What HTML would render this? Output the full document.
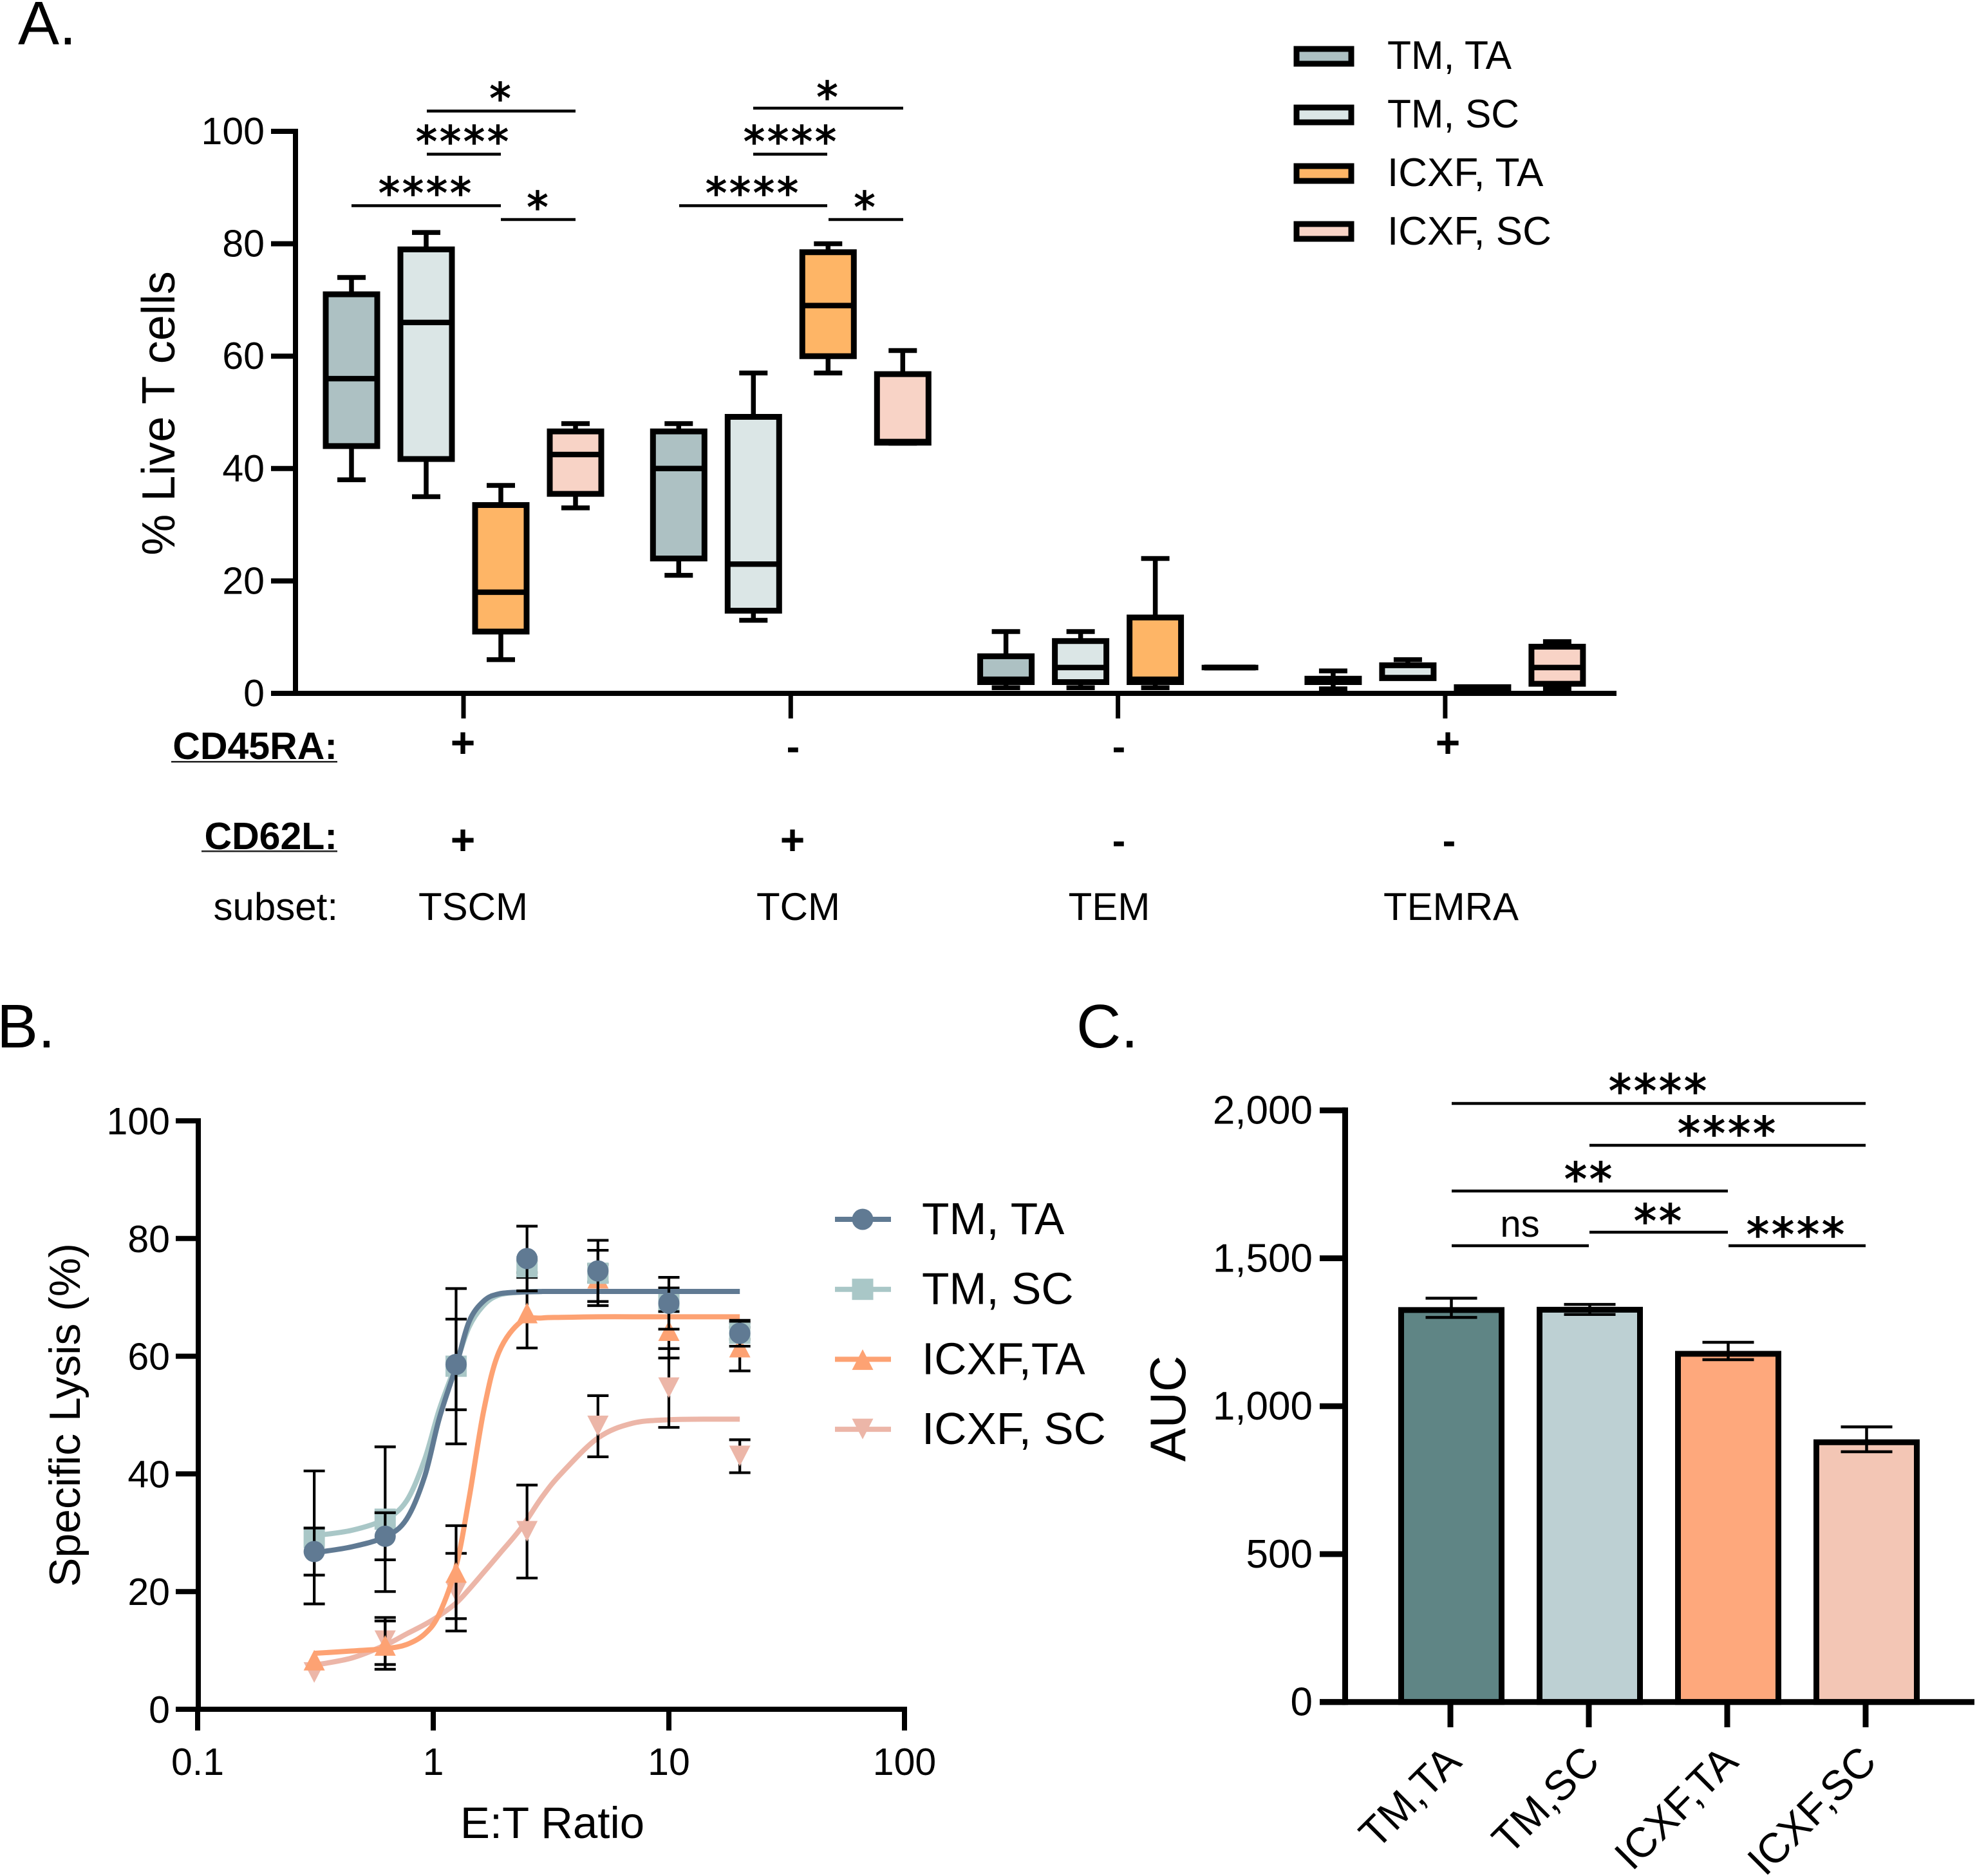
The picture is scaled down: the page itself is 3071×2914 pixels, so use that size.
<!DOCTYPE html>
<html lang="en">
<head>
<meta charset="utf-8">
<title>T cell subsets, specific lysis and AUC</title>
<style>
html,body{margin:0;padding:0;background:#fff;}
svg{display:block;}
text{font-family:"Liberation Sans",Arial,sans-serif;fill:#000;}
text.star{font-family:"DejaVu Sans",sans-serif;font-size:66px;letter-spacing:4px;text-anchor:middle;stroke:#000;stroke-width:1.6px;}
text.starc{font-size:70px;}
.br{stroke:#000;stroke-width:4.5px;}
.bold{font-weight:bold;}
</style>
</head>
<body>
<svg id="fig" xmlns="http://www.w3.org/2000/svg" width="3071" height="2914" viewBox="0 0 3071 2914">
<rect width="3071" height="2914" fill="#fff"/>

<text x="28" y="69" font-size="96">A.</text>
<text x="-5" y="1627" font-size="96">B.</text>
<text x="1672" y="1627" font-size="96">C.</text>

<!-- Panel A static -->
<g id="panelA">
<text transform="translate(271,642) rotate(-90)" font-size="72" text-anchor="middle">% Live T cells</text>
<g>
<text x="524" y="1179" font-size="59" text-anchor="end" class="bold">CD45RA:</text>
<rect x="266" y="1182" width="258" height="2.5" fill="#222"/>
<text x="524" y="1319" font-size="59" text-anchor="end" class="bold">CD62L:</text>
<rect x="313" y="1321" width="211" height="2.5" fill="#222"/>
<text x="525" y="1429" font-size="60" text-anchor="end">subset:</text>
</g>
<g class="bold" font-size="66" text-anchor="middle">
<text x="719" y="1176">+</text>
<text x="1232" y="1181" font-size="62">-</text>
<text x="1738" y="1181" font-size="62">-</text>
<text x="2249" y="1176">+</text>
</g>
<g class="bold" font-size="66" text-anchor="middle">
<text x="719" y="1327">+</text>
<text x="1231" y="1327">+</text>
<text x="1738" y="1327" font-size="62">-</text>
<text x="2251" y="1327" font-size="62">-</text>
</g>
<g font-size="60" text-anchor="middle">
<text x="735" y="1429">TSCM</text>
<text x="1240" y="1429">TCM</text>
<text x="1723" y="1429">TEM</text>
<text x="2254" y="1429">TEMRA</text>
</g>
<g>
<line class="br" x1="663" x2="894" y1="172.5" y2="172.5"/>
<line class="br" x1="663" x2="778" y1="239.5" y2="239.5"/>
<line class="br" x1="546" x2="778" y1="319.5" y2="319.5"/>
<line class="br" x1="778" x2="894" y1="341" y2="341"/>
<line class="br" x1="1170" x2="1403" y1="168" y2="168"/>
<line class="br" x1="1170" x2="1285" y1="239.5" y2="239.5"/>
<line class="br" x1="1055" x2="1285" y1="319.5" y2="319.5"/>
<line class="br" x1="1287" x2="1403" y1="341" y2="341"/>
<text class="star" x="779" y="176">*</text>
<text class="star" x="720" y="243">****</text>
<text class="star" x="662" y="323">****</text>
<text class="star" x="837" y="345">*</text>
<text class="star" x="1287" y="174">*</text>
<text class="star" x="1229" y="243">****</text>
<text class="star" x="1170" y="323">****</text>
<text class="star" x="1345" y="345">*</text>
</g>
<g font-size="62">
<rect x="2014" y="76" width="85" height="23" fill="#adc1c3" stroke="#000" stroke-width="9"/>
<text x="2155" y="107" textLength="193" lengthAdjust="spacingAndGlyphs">TM, TA</text>
<rect x="2014" y="167" width="85" height="23" fill="#dbe6e6" stroke="#000" stroke-width="9"/>
<text x="2155" y="198" textLength="205" lengthAdjust="spacingAndGlyphs">TM, SC</text>
<rect x="2014" y="258" width="85" height="23" fill="#feb566" stroke="#000" stroke-width="9"/>
<text x="2155" y="289">ICXF, TA</text>
<rect x="2014" y="348" width="85" height="23" fill="#f8d3c6" stroke="#000" stroke-width="9"/>
<text x="2155" y="380">ICXF, SC</text>
</g>
</g>

<!-- Panel B static -->
<g id="panelB">
<text transform="translate(124,2198) rotate(-90)" font-size="68" text-anchor="middle">Specific Lysis (%)</text>
<text x="858" y="2855" font-size="69" text-anchor="middle">E:T Ratio</text>
</g>

<!-- Panel C static -->
<g id="panelC">
<text transform="translate(1841,2188) rotate(-90)" font-size="78" text-anchor="middle">AUC</text>
</g>
<g id="panelCtop">
<line class="br" x1="2255" x2="2898" y1="1714" y2="1714"/>
<line class="br" x1="2469" x2="2898" y1="1779" y2="1779"/>
<line class="br" x1="2255" x2="2684" y1="1850" y2="1850"/>
<line class="br" x1="2469" x2="2684" y1="1914" y2="1914"/>
<line class="br" x1="2255" x2="2468" y1="1935" y2="1935"/>
<line class="br" x1="2685" x2="2898" y1="1935" y2="1935"/>
<text class="star starc" x="2577" y="1719">****</text>
<text class="star starc" x="2684" y="1785">****</text>
<text class="star starc" x="2469" y="1856">**</text>
<text class="star starc" x="2577" y="1921">**</text>
<text x="2361" y="1921" font-size="58" text-anchor="middle">ns</text>
<text class="star starc" x="2791" y="1942">****</text>
</g>
</svg>

<script>
// ---------- Panel A data ----------
const groupNames = ['TSCM', 'TCM', 'TEM', 'TEMRA'];
const boxSeries = ['TM, TA', 'TM, SC', 'ICXF, TA', 'ICXF, SC'];
const boxFills = ['#adc1c3', '#dbe6e6', '#feb566', '#f8d3c6'];
const boxMin = [38, 35, 6, 33,   21, 13, 57, 44.5,   1, 1, 1, 4.6,   0.8, 2.7, 0.5, 0.8];
const boxQ1 = [44, 41.7, 11, 35.5,  24, 14.7, 60, 44.6,  2, 2, 2, 4.6,    2, 2.7, 0.9, 1.7];
const boxMed = [56, 66, 18, 42.5, 40, 23, 69, 44.8,     2.5, 4.6, 2.5, 4.6,   2.3, 2.8, 1, 4.6];
const boxQ3 = [71, 79, 33.5, 46.6,    46.6, 49.2, 78.5, 56.8,   6.6, 9.3, 13.5, 4.6,  2.6, 5, 1.1, 8.3];
const boxMax = [74, 82, 37, 48,   48, 57, 80, 61,     11, 11, 24, 4.6,    4, 6, 1.1, 9.2];
const yTicksA = [0, 20, 40, 60, 80, 100];

// ---------- Panel B data ----------
const etRatios = [0.3125, 0.625, 1.25, 2.5, 5, 10, 20];
const lysisTmTa = [26.8, 29.4, 58.6, 76.6, 74.5, 69, 63.9];
const errTmTa = [4, 4, 7.7, 5.5, 5.2, 4.4, 2.2];
const lysisTmSc = [29.2, 32.3, 58.3, 75.2, 74.1, 69.6, 63.9];
const errTmSc = [11.3, 12.3, 13.2, 1, 1.5, 2, 1];
const lysisIcxfTa = [8.4, 10.9, 23.3, 67.4, 73.3, 64.4, 61.6];
const errIcxfTa = [0, 4.1, 7.9, 6, 4.7, 4.7, 4.1];
const lysisIcxfSc = [6.2, 11.6, 19.9, 30.2, 48.1, 54.6, 43];
const errIcxfSc = [0, 4, 6.6, 7.9, 5.2, 6.7, 2.8];
const curveEt = [0.3125, 0.45, 0.625, 0.77, 0.92, 1.06, 1.25, 1.42, 1.64, 1.9, 2.36, 2.9, 3.5, 5, 7, 10, 14, 20];
const curveTmTa = [26.6, 27.6, 29.3, 32.3, 39.6, 49.4, 58.3, 65.9, 69.4, 70.6, 70.9, 71, 71, 71, 71, 71, 71, 71];
const curveTmSc = [29.5, 30.4, 32.3, 35.4, 42.5, 50.9, 58.7, 65, 68.7, 70.4, 70.9, 71, 71, 71, 71, 71, 71, 71];
const curveIcxfTa = [9.5, 9.9, 10.3, 11, 12.8, 16.2, 24.3, 35.9, 50.9, 60.7, 65.9, 66.5, 66.6, 66.7, 66.7, 66.7, 66.7, 66.7];
const curveIcxfSc = [7.5, 8.7, 10.9, 12.8, 14.4, 15.9, 18.05, 20.4, 23.3, 26.3, 30.8, 36.1, 40.1, 46.1, 48.6, 49.2, 49.3, 49.3];
const xTicksB = [0.1, 1, 10, 100];
const xTickLabelsB = ['0.1', '1', '10', '100'];
const yTicksB = [0, 20, 40, 60, 80, 100];
const legendB = ['TM, TA', 'TM, SC', 'ICXF,TA', 'ICXF, SC'];

// ---------- Panel C data ----------
const aucCategories = ['TM,TA', 'TM,SC', 'ICXF,TA', 'ICXF,SC'];
const aucValues = [1325, 1326, 1177, 878];
const aucHigh = [1365, 1344, 1216, 930];
const aucLow = [1300, 1310, 1157, 846];
const aucFills = ['#5f8585', '#bdd0d3', '#fea87c', '#f3c6b5'];
const yTicksC = [0, 500, 1000, 1500, 2000];
const yTickLabelsC = ['0', '500', '1,000', '1,500', '2,000'];

// ---------- helpers ----------
const SVGNS = 'http://www.w3.org/2000/svg';
function mk(tag, parent, attrs) {
  const el = document.createElementNS(SVGNS, tag);
  for (const k in attrs) el.setAttribute(k, attrs[k]);
  parent.appendChild(el);
  return el;
}
function hline(parent, x1, x2, y, w, color) {
  return mk('line', parent, {x1: x1, x2: x2, y1: y, y2: y, stroke: color || '#000', 'stroke-width': w});
}
function vline(parent, x, y1, y2, w, color) {
  return mk('line', parent, {x1: x, x2: x, y1: y1, y2: y2, stroke: color || '#000', 'stroke-width': w});
}
function smoothPath(xs, ys) {
  let d = 'M' + xs[0] + ' ' + ys[0];
  for (let i = 0; i < xs.length - 1; i++) {
    const i0 = Math.max(0, i - 1), i3 = Math.min(xs.length - 1, i + 2);
    const c1x = xs[i] + (xs[i + 1] - xs[i0]) / 6, c1y = ys[i] + (ys[i + 1] - ys[i0]) / 6;
    const c2x = xs[i + 1] - (xs[i3] - xs[i]) / 6, c2y = ys[i + 1] - (ys[i3] - ys[i]) / 6;
    d += 'C' + c1x + ' ' + c1y + ' ' + c2x + ' ' + c2y + ' ' + xs[i + 1] + ' ' + ys[i + 1];
  }
  return d;
}

// ---------- Panel A ----------
const panelA = document.getElementById('panelA');
const yA = v => 1077 - v * 8.73;
const xA = (g, s) => 546 + g * 508.3 + s * 116;
const tickXA = g => 720 + g * 508.3;

boxMed.forEach(function (med, i) {
  const g = Math.floor(i / 4), s = i % 4, cx = xA(g, s);
  const box = mk('g', panelA, {});
  
  
  vline(box, cx, yA(boxMax[i]), yA(boxMin[i]), 7.5);
  if (boxMax[i] !== boxMin[i]) {
    hline(box, cx - 22, cx + 22, yA(boxMax[i]), 7.5);
    hline(box, cx - 22, cx + 22, yA(boxMin[i]), 7.5);
  }
  mk('path', box, {
    d: 'M' + (cx - 40) + ' ' + yA(boxQ3[i]) + 'H' + (cx + 40) + 'V' + yA(boxQ1[i]) + 'H' + (cx - 40) + 'Z',
    fill: boxFills[s], stroke: '#000', 'stroke-width': 9
  });
  hline(box, cx - 44, cx + 44, yA(med), 8.5);
});

const axesA = mk('g', panelA, {});


vline(axesA, 459, yA(100) - 4, yA(0) + 4, 8);
hline(axesA, 421, 2511, yA(0), 8);
yTicksA.forEach(function (t) {
  hline(axesA, 421, 459, yA(t), 8);
  const lab = mk('text', axesA, {x: 411, y: yA(t) + 20, 'font-size': 59, 'text-anchor': 'end'});
  lab.textContent = t;
  
  
});
groupNames.forEach(function (n, g) {
  const tick = vline(axesA, tickXA(g), yA(0), 1116, 7);
  
  
});

// ---------- Panel B ----------
const panelB = document.getElementById('panelB');
const xB = v => 673 + Math.log10(v) * 366;
const yB = v => 2655 - v * 9.14;
const colorsB = {tmTa: '#607a93', tmSc: '#a9c7c7', icxfTa: '#fda273', icxfSc: '#ecb6a8'};

function markerB(parent, kind, x, y, color) {
  if (kind === 'circle') return mk('circle', parent, {cx: x, cy: y, r: 16.5, fill: color});
  if (kind === 'square') return mk('rect', parent, {x: x - 16.5, y: y - 16.5, width: 33, height: 33, fill: color});
  if (kind === 'up') return mk('polygon', parent, {points: x + ',' + (y - 15.5) + ' ' + (x - 16.5) + ',' + (y + 16.5) + ' ' + (x + 16.5) + ',' + (y + 16.5), fill: color});
  return mk('polygon', parent, {points: x + ',' + (y + 15.5) + ' ' + (x - 16.5) + ',' + (y - 16.5) + ' ' + (x + 16.5) + ',' + (y - 16.5), fill: color});
}

const axesB = mk('g', panelB, {});


vline(axesB, 308, yB(100) - 4, yB(0) + 4, 8);
hline(axesB, 304, 1409, yB(0), 8);
yTicksB.forEach(function (t) {
  hline(axesB, 273, 308, yB(t), 8);
  const lab = mk('text', axesB, {x: 264, y: yB(t) + 21, 'font-size': 59, 'text-anchor': 'end'});
  lab.textContent = t;
  
  
});
xTicksB.forEach(function (t, i) {
  vline(axesB, xB(t), yB(0), 2688, 8);
  const lab = mk('text', axesB, {x: xB(t), y: 2757, 'font-size': 59, 'text-anchor': 'middle'});
  lab.textContent = xTickLabelsB[i];
  
  
});

function seriesB(name, kind, color, means, errs, curve) {
  const g = mk('g', panelB, {});
  
  
  mk('path', g, {
    d: smoothPath(curveEt.map(xB), curve.map(yB)),
    fill: 'none', stroke: color, 'stroke-width': 8
  });
  etRatios.forEach(function (et, i) {
    const x = xB(et), hi = yB(means[i] + errs[i]), lo = yB(means[i] - errs[i]);
    if (errs[i] > 0) {
      vline(g, x, hi, lo, 4.2);
      hline(g, x - 16.5, x + 16.5, hi, 4.2);
      hline(g, x - 16.5, x + 16.5, lo, 4.2);
    }
    markerB(g, kind, x, yB(means[i]), color);
  });
}
seriesB('icxf-sc', 'down', colorsB.icxfSc, lysisIcxfSc, errIcxfSc, curveIcxfSc);
seriesB('icxf-ta', 'up', colorsB.icxfTa, lysisIcxfTa, errIcxfTa, curveIcxfTa);
seriesB('tm-sc', 'square', colorsB.tmSc, lysisTmSc, errTmSc, curveTmSc);
seriesB('tm-ta', 'circle', colorsB.tmTa, lysisTmTa, errTmTa, curveTmTa);

const legB = mk('g', panelB, {});


const legKinds = ['circle', 'square', 'up', 'down'];
const legColors = [colorsB.tmTa, colorsB.tmSc, colorsB.icxfTa, colorsB.icxfSc];
legendB.forEach(function (label, i) {
  const cy = 1894 + i * 108.7;
  hline(legB, 1297, 1384, cy, 8, legColors[i]);
  markerB(legB, legKinds[i], 1340, cy, legColors[i]);
  const lab = mk('text', legB, {x: 1432, y: cy + 23, 'font-size': 69.5});
  lab.textContent = label;
  
  
});

// ---------- Panel C ----------
const panelC = document.getElementById('panelC');
const yC = v => 2643.7 - v * 0.4595;
const xC = i => 2254.5 + i * 215;

aucValues.forEach(function (v, i) {
  const g = mk('g', panelC, {});
  
  
  const cx = xC(i);
  vline(g, cx, yC(aucHigh[i]), yC(aucLow[i]), 4.5);
  hline(g, cx - 40, cx + 40, yC(aucHigh[i]), 4.5);
  mk('rect', g, {x: cx - 78, y: yC(v), width: 156, height: yC(0) - yC(v), fill: aucFills[i], stroke: '#000', 'stroke-width': 9});
  vline(g, cx, yC(v), yC(aucLow[i]), 4.5);
  hline(g, cx - 40, cx + 40, yC(aucLow[i]), 4.5);
});
const axesC = mk('g', panelC, {});


vline(axesC, 2089.5, yC(2000) - 4.5, yC(0) + 4.5, 9);
hline(axesC, 2050, 3067, yC(0), 9);
yTicksC.forEach(function (t, i) {
  hline(axesC, 2050, 2090, yC(t), 9);
  const lab = mk('text', axesC, {x: 2039, y: yC(t) + 21, 'font-size': 62, 'text-anchor': 'end'});
  lab.textContent = yTickLabelsC[i];
  
  
});
aucCategories.forEach(function (c, i) {
  const tx = 2253 + i * 215;
  vline(axesC, tx, yC(0), 2683, 9);
  const lab = mk('text', axesC, {transform: 'translate(' + (tx + 20) + ',2740) rotate(-45)', 'font-size': 65, 'text-anchor': 'end'});
  lab.textContent = c;
  
  
});
</script>
</body>
</html>
